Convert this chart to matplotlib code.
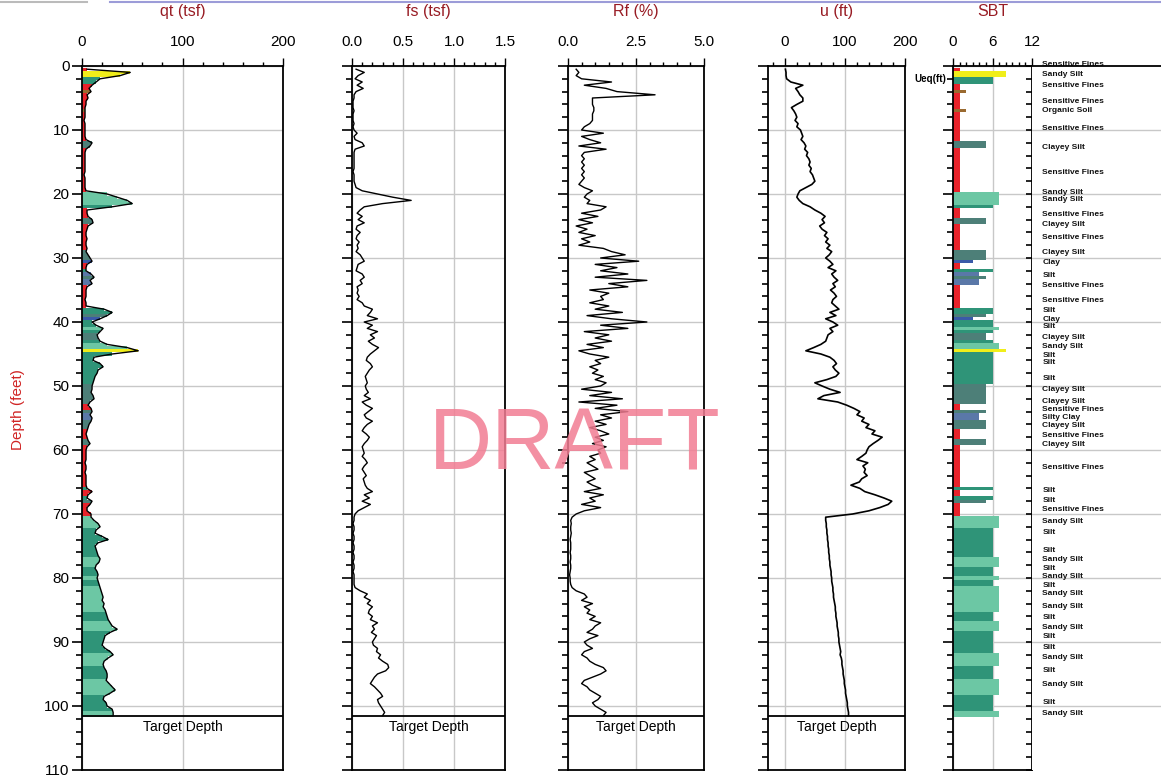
import matplotlib.pyplot as plt
from matplotlib.ticker import MultipleLocator
import numpy as np

plt.rcParams['font.family'] = ['Liberation Sans', 'DejaVu Sans']

# depth samples every 0.5 ft, 0.5 .. 101.5
depth = np.arange(0.5, 101.6, 0.5)

# cone resistance qt (tsf)
qt = [5, 48, 38, 18, 14, 10, 7, 9, 5, 6,
      4, 4, 3, 3, 3, 3, 2, 3, 3, 3,
      3, 3, 4, 10, 8, 4, 3, 3, 3, 3,
      3, 3, 3, 2, 3, 3, 3, 3, 4, 25,
      35, 45, 50, 30, 5, 5, 6, 10, 11, 6,
      5, 4, 4, 5, 4, 4, 5, 4, 6, 8,
      10, 5, 4, 4, 9, 12, 8, 10, 5, 4,
      4, 4, 3, 4, 4, 22, 30, 25, 18, 10,
      14, 21, 18, 15, 16, 18, 25, 45, 56, 30,
      12, 11, 18, 21, 16, 15, 13, 12, 11, 10,
      10, 9, 11, 12, 8, 6, 9, 10, 8, 10,
      9, 7, 6, 5, 4, 5, 6, 8, 5, 4,
      4, 4, 4, 3, 4, 4, 3, 4, 4, 4,
      4, 5, 10, 6, 5, 10, 8, 5, 5, 9,
      9, 12, 16, 18, 14, 13, 20, 26, 16, 13,
      14, 15, 16, 18, 17, 14, 13, 15, 16, 15,
      16, 17, 18, 19, 20, 21, 20, 22, 21, 23,
      24, 25, 26, 28, 30, 35, 28, 23, 22, 21,
      20, 23, 28, 31, 26, 22, 21, 22, 24, 25,
      25, 24, 27, 30, 33, 28, 22, 21, 24, 25,
      30, 31, 31]

# sleeve friction fs (tsf)
fs = [0.04, 0.12, 0.06, 0.03, 0.10, 0.05, 0.11, 0.04, 0.02, 0.02,
      0.01, 0.01, 0.01, 0.02, 0.01, 0.01, 0.01, 0.02, 0.01, 0.02,
      0.05, 0.02, 0.03, 0.10, 0.12, 0.03, 0.02, 0.02, 0.02, 0.02,
      0.02, 0.02, 0.01, 0.02, 0.02, 0.02, 0.03, 0.04, 0.10, 0.25,
      0.40, 0.58, 0.30, 0.12, 0.08, 0.05, 0.10, 0.06, 0.12, 0.05,
      0.04, 0.08, 0.05, 0.04, 0.07, 0.05, 0.06, 0.04, 0.08, 0.10,
      0.12, 0.06, 0.05, 0.04, 0.10, 0.12, 0.08, 0.10, 0.05, 0.06,
      0.05, 0.07, 0.05, 0.10, 0.12, 0.20, 0.18, 0.15, 0.25, 0.12,
      0.20, 0.15, 0.25, 0.18, 0.22, 0.16, 0.20, 0.26, 0.22, 0.18,
      0.15, 0.14, 0.18, 0.20, 0.17, 0.15, 0.13, 0.14, 0.15, 0.13,
      0.14, 0.16, 0.12, 0.18, 0.10, 0.14, 0.20, 0.16, 0.12, 0.14,
      0.20, 0.15, 0.12, 0.10, 0.14, 0.17, 0.15, 0.12, 0.10, 0.11,
      0.12, 0.10, 0.13, 0.15, 0.12, 0.10, 0.12, 0.14, 0.11, 0.12,
      0.13, 0.15, 0.20, 0.12, 0.17, 0.10, 0.18, 0.12, 0.06, 0.03,
      0.02, 0.02, 0.01, 0.02, 0.02, 0.01, 0.02, 0.02, 0.01, 0.02,
      0.02, 0.01, 0.02, 0.02, 0.01, 0.02, 0.02, 0.01, 0.02, 0.02,
      0.02, 0.02, 0.03, 0.08, 0.15, 0.12, 0.18, 0.15, 0.20, 0.17,
      0.16, 0.20, 0.18, 0.25, 0.20, 0.22, 0.19, 0.24, 0.22, 0.20,
      0.21, 0.25, 0.24, 0.28, 0.26, 0.30, 0.35, 0.36, 0.33, 0.25,
      0.22, 0.20, 0.18, 0.22, 0.25, 0.28, 0.30, 0.25, 0.26, 0.28,
      0.30, 0.32, 0.30]

# friction ratio Rf (%)
rf = [0.3, 0.4, 0.3, 0.5, 1.6, 0.6, 1.4, 1.8, 3.2, 0.9,
      0.9, 0.9, 0.95, 0.95, 0.9, 0.9, 0.9, 0.8, 0.6, 0.5,
      1.3, 0.5, 0.8, 1.2, 0.4, 1.4, 0.6, 0.5, 0.6, 0.5,
      0.6, 0.5, 0.6, 0.5, 0.6, 0.5, 0.4, 0.6, 0.9, 0.7,
      0.6, 0.8, 0.7, 1.4, 1.2, 0.5, 1.1, 0.4, 0.9, 0.3,
      0.7, 0.4, 1.0, 0.5, 0.8, 0.4, 1.3, 1.6, 2.1, 1.2,
      2.6, 1.0, 1.8, 1.2, 2.2, 1.0, 2.9, 1.5, 2.2, 0.8,
      1.5, 1.2, 1.3, 0.8, 1.5, 1.0, 2.0, 0.7, 1.6, 2.9,
      1.2, 2.2, 0.6, 1.5, 1.0, 1.6, 0.7, 1.3, 0.4, 0.8,
      1.5, 1.0, 1.2, 0.8, 1.1, 0.9, 1.3, 1.0, 1.4, 1.2,
      0.5, 1.6, 0.8, 2.0, 0.4, 1.8, 1.0, 2.2, 1.2, 1.6,
      1.0, 1.4, 0.8, 1.2, 1.5, 1.0, 1.3, 0.9, 1.4, 1.1,
      1.2, 0.8, 1.0, 0.7, 0.9, 1.1, 0.6, 0.8, 1.0, 0.7,
      0.9, 1.2, 0.6, 1.3, 0.8, 1.0, 0.5, 1.2, 0.6, 0.3,
      0.15, 0.1, 0.12, 0.1, 0.1, 0.12, 0.1, 0.08, 0.1, 0.1,
      0.1, 0.08, 0.1, 0.1, 0.08, 0.1, 0.1, 0.08, 0.06, 0.08,
      0.08, 0.1, 0.15, 0.3, 0.6, 0.7, 0.5, 0.9, 0.6, 0.8,
      0.7, 1.0, 0.8, 1.2, 1.0, 0.9, 0.7, 1.1, 0.8, 0.6,
      0.7, 0.9, 0.6, 0.5, 0.7, 0.8, 1.0, 1.3, 1.4, 1.2,
      0.9, 0.6, 0.5, 0.7, 0.8, 1.0, 1.2, 1.1, 0.9, 1.0,
      1.2, 1.4, 1.3]

# pore pressure u (ft)
u = [1, 2, 2, 3, 10, 30, 18, 22, 25, 30,
     30, 20, 11, 15, 18, 20, 17, 22, 20, 26,
     28, 30, 27, 32, 35, 33, 38, 36, 40, 42,
     40, 44, 42, 46, 48, 50, 45, 35, 25, 22,
     20, 24, 30, 42, 50, 60, 67, 62, 66, 58,
     62, 70, 66, 72, 68, 75, 70, 78, 74, 68,
     75, 80, 72, 85, 78, 82, 88, 80, 84, 76,
     82, 86, 80, 78, 84, 90, 75, 85, 68, 80,
     88, 75, 80, 72, 70, 68, 60, 48, 35, 60,
     75, 82, 86, 80, 84, 90, 85, 70, 50, 62,
     75, 92, 65, 55, 88, 103, 115, 125, 120, 132,
     128, 140, 135, 150, 145, 162, 155, 147, 140, 137,
     135, 128, 120, 138, 130, 134, 132, 137, 128, 124,
     110, 125, 133, 150, 165, 178, 172, 158, 140, 113,
     68, 68, 69, 69, 70, 70, 71, 71, 72, 72,
     73, 73, 74, 74, 75, 75, 76, 77, 77, 78,
     78, 79, 80, 80, 81, 81, 82, 83, 84, 84,
     85, 85, 86, 87, 87, 88, 89, 89, 90, 90,
     91, 92, 93, 92, 94, 95, 95, 96, 97, 97,
     98, 99, 99, 100, 101, 101, 102, 103, 104, 104,
     105, 106, 106]

# soil behaviour type zone
sbt = [1, 8, 8, 6, 6, 1, 1, 2, 1, 1,
       1, 1, 1, 2, 1, 1, 1, 1, 1, 1,
       1, 1, 1, 5, 5, 1, 1, 1, 1, 1,
       1, 1, 1, 1, 1, 1, 1, 1, 1, 7,
       7, 7, 7, 6, 1, 1, 1, 5, 5, 1,
       1, 1, 1, 1, 1, 1, 1, 5, 5, 5,
       3, 1, 1, 6, 4, 5, 4, 4, 1, 1,
       1, 1, 1, 1, 1, 6, 6, 5, 3, 6,
       6, 7, 6, 5, 5, 6, 7, 7, 8, 6,
       6, 6, 6, 6, 6, 6, 6, 6, 6, 5,
       5, 5, 5, 5, 5, 1, 1, 5, 4, 4,
       5, 5, 5, 1, 1, 1, 5, 5, 1, 1,
       1, 1, 1, 1, 1, 1, 1, 1, 1, 1,
       1, 6, 1, 1, 6, 5, 1, 1, 1, 1,
       7, 7, 7, 7, 6, 6, 6, 6, 6, 6,
       6, 6, 6, 7, 7, 7, 6, 6, 6, 7,
       6, 6, 7, 7, 7, 7, 7, 7, 7, 7,
       6, 6, 6, 7, 7, 7, 6, 6, 6, 6,
       6, 6, 6, 7, 7, 7, 7, 6, 6, 6,
       6, 7, 7, 7, 7, 7, 6, 6, 6, 6,
       6, 7, 7]

layer_depths = [-0.2, 1.3, 3.0, 5.5, 6.9, 9.7, 12.8, 16.7, 19.8, 20.9, 23.2, 24.8,
                26.8, 29.1, 30.7, 32.7, 34.3, 36.6, 38.2, 39.6, 40.7, 42.4, 43.9,
                45.2, 46.4, 48.9, 50.5, 52.5, 53.7, 55.0, 56.2, 57.8, 59.2, 62.8,
                66.4, 67.9, 69.3, 71.2, 72.9, 75.7, 77.1, 78.5, 79.8, 81.2, 82.5,
                84.4, 86.1, 87.7, 89.1, 90.8, 92.4, 94.4, 96.7, 99.5, 101.1]
layer_names = ['Sensitive Fines', 'Sandy Silt', 'Sensitive Fines', 'Sensitive Fines',
               'Organic Soil', 'Sensitive Fines', 'Clayey Silt', 'Sensitive Fines',
               'Sandy Silt', 'Sandy Silt', 'Sensitive Fines', 'Clayey Silt',
               'Sensitive Fines', 'Clayey Silt', 'Clay', 'Silt', 'Sensitive Fines',
               'Sensitive Fines', 'Silt', 'Clay', 'Silt', 'Clayey Silt', 'Sandy Silt',
               'Silt', 'Silt', 'Silt', 'Clayey Silt', 'Clayey Silt', 'Sensitive Fines',
               'Silty Clay', 'Clayey Silt', 'Sensitive Fines', 'Clayey Silt',
               'Sensitive Fines', 'Silt', 'Silt', 'Sensitive Fines', 'Sandy Silt',
               'Silt', 'Silt', 'Sandy Silt', 'Silt', 'Sandy Silt', 'Silt', 'Sandy Silt',
               'Sandy Silt', 'Silt', 'Sandy Silt', 'Silt', 'Silt', 'Sandy Silt', 'Silt',
               'Sandy Silt', 'Silt', 'Sandy Silt']

target_depth = 101.6

zone_colors = {1: '#e8222a', 2: '#9a6a30', 3: '#3a5aa8', 4: '#5a78a8',
               5: '#4d7f78', 6: '#2f9478', 7: '#6cc7a4', 8: '#f0ee1a'}
bar_colors = [zone_colors[z] for z in sbt]

title_color = '#981c24'
grid_color = '#c8c8c8'

fig = plt.figure(figsize=(11.61, 7.78), dpi=100)
top = 0.91517
bot = 0.0103
hgt = top - bot


def setup(ax, xlim, major, labels, minor, title):
    ax.set_xlim(*xlim)
    ax.set_ylim(110, 0)
    ax.xaxis.set_ticks_position('top')
    ax.set_xticks(major)
    ax.set_xticklabels(labels)
    ax.xaxis.set_minor_locator(MultipleLocator(minor))
    ax.yaxis.set_major_locator(MultipleLocator(10))
    ax.yaxis.set_minor_locator(MultipleLocator(2))
    ax.tick_params(axis='x', which='major', direction='out', length=6, width=1, pad=6, labelsize=11)
    ax.tick_params(axis='x', which='minor', direction='out', length=3, width=1)
    ax.tick_params(axis='y', which='major', direction='out', length=7, width=1.2,
                   labelleft=False, labelsize=11, pad=2)
    ax.tick_params(axis='y', which='minor', direction='out', length=4.5, width=1.2)
    ax.grid(True, which='major', color=grid_color, lw=1)
    ax.set_axisbelow(True)
    for s in ax.spines.values():
        s.set_linewidth(1.3)
    ax.text(0.5, 1.077, title, transform=ax.transAxes, ha='center', va='center',
            color=title_color, fontsize=11.5)


def target(ax):
    ax.axhline(target_depth, color='k', lw=1.3)
    ax.text(0.5, target_depth + 0.6, 'Target Depth', transform=ax.get_yaxis_transform(),
            ha='center', va='top', fontsize=10)


# qt
ax1 = fig.add_axes([0.07063, bot, 0.17313, hgt])
setup(ax1, (0, 200), [0, 100, 200], ['0', '100', '200'], 20, 'qt (tsf)')
ax1.barh(depth, qt, height=0.5, color=bar_colors, linewidth=0)
ax1.plot(qt, depth, color='k', lw=1)
ax1.set_yticks(range(0, 111, 10))
ax1.tick_params(axis='y', labelleft=True)
for lab in ax1.get_yticklabels():
    lab.set_verticalalignment('center_baseline')
target(ax1)

# fs
ax2 = fig.add_axes([0.30319, bot, 0.13178, hgt])
setup(ax2, (0, 1.5), [0, 0.5, 1.0, 1.5], ['0.0', '0.5', '1.0', '1.5'], 0.1, 'fs (tsf)')
ax2.plot(fs, depth, color='k', lw=1)
target(ax2)

# Rf
ax3 = fig.add_axes([0.48923, bot, 0.11714, hgt])
setup(ax3, (0, 5), [0, 2.5, 5], ['0.0', '2.5', '5.0'], 0.5, 'Rf (%)')
ax3.plot(rf, depth, color='k', lw=1)
target(ax3)

# u
ax4 = fig.add_axes([0.66150, bot, 0.11800, hgt])
setup(ax4, (-28, 200), [0, 100, 200], ['0', '100', '200'], 20, 'u (ft)')
ax4.plot(u, depth, color='k', lw=1.2)
target(ax4)

# SBT
ax5 = fig.add_axes([0.82085, bot, 0.06804, hgt])
setup(ax5, (0, 12), [0, 6, 12], ['0', '6', '12'], 1, 'SBT')
ax5.barh(depth, sbt, height=0.5, color=bar_colors, linewidth=0)
ax5r = ax5.twinx()
ax5r.set_ylim(110, 0)
ax5r.yaxis.set_major_locator(MultipleLocator(10))
ax5r.yaxis.set_minor_locator(MultipleLocator(2))
ax5r.tick_params(axis='y', which='both', direction='in', length=4.5, width=1.2, labelright=False)
for s in ax5r.spines.values():
    s.set_visible(False)
fig.text(0.8148, 1 - 79 / 778, 'Ueq(ft)', ha='right', va='center', fontsize=7, fontweight='bold')

# soil type labels
ax6 = fig.add_axes([0.88889, bot, 0.11111, hgt])
ax6.set_xlim(0, 1)
ax6.set_ylim(110, 0)
ax6.set_xticks([])
ax6.set_yticks(range(10, 101, 10))
ax6.tick_params(axis='y', length=0, labelleft=False)
ax6.grid(True, axis='y', color=grid_color, lw=1)
for side in ['left', 'right', 'bottom']:
    ax6.spines[side].set_visible(False)
ax6.spines['top'].set_linewidth(1.3)
ax6.spines['top'].set_zorder(5)
for d, name in zip(layer_depths, layer_names):
    ax6.text(0.08, d, name, ha='left', va='center', fontsize=6.0, fontweight='bold', color='#111111')

fig.text(18 / 1161, 1 - 410 / 778, 'Depth (feet)', rotation=90, ha='center', va='center',
         color='#d02424', fontsize=11)

fig.text(0.495, 0.425, 'DRAFT', ha='center', va='center', fontsize=63,
         color='#f27d93', alpha=0.85, zorder=20)

fig.add_artist(plt.Line2D([0.095, 1.0], [0.998, 0.998], color='#9c9cd8', lw=1.5))
fig.add_artist(plt.Line2D([0.0, 0.075], [0.998, 0.998], color='#bbbbbb', lw=1.5))

fig.savefig('out.png', dpi=100)
